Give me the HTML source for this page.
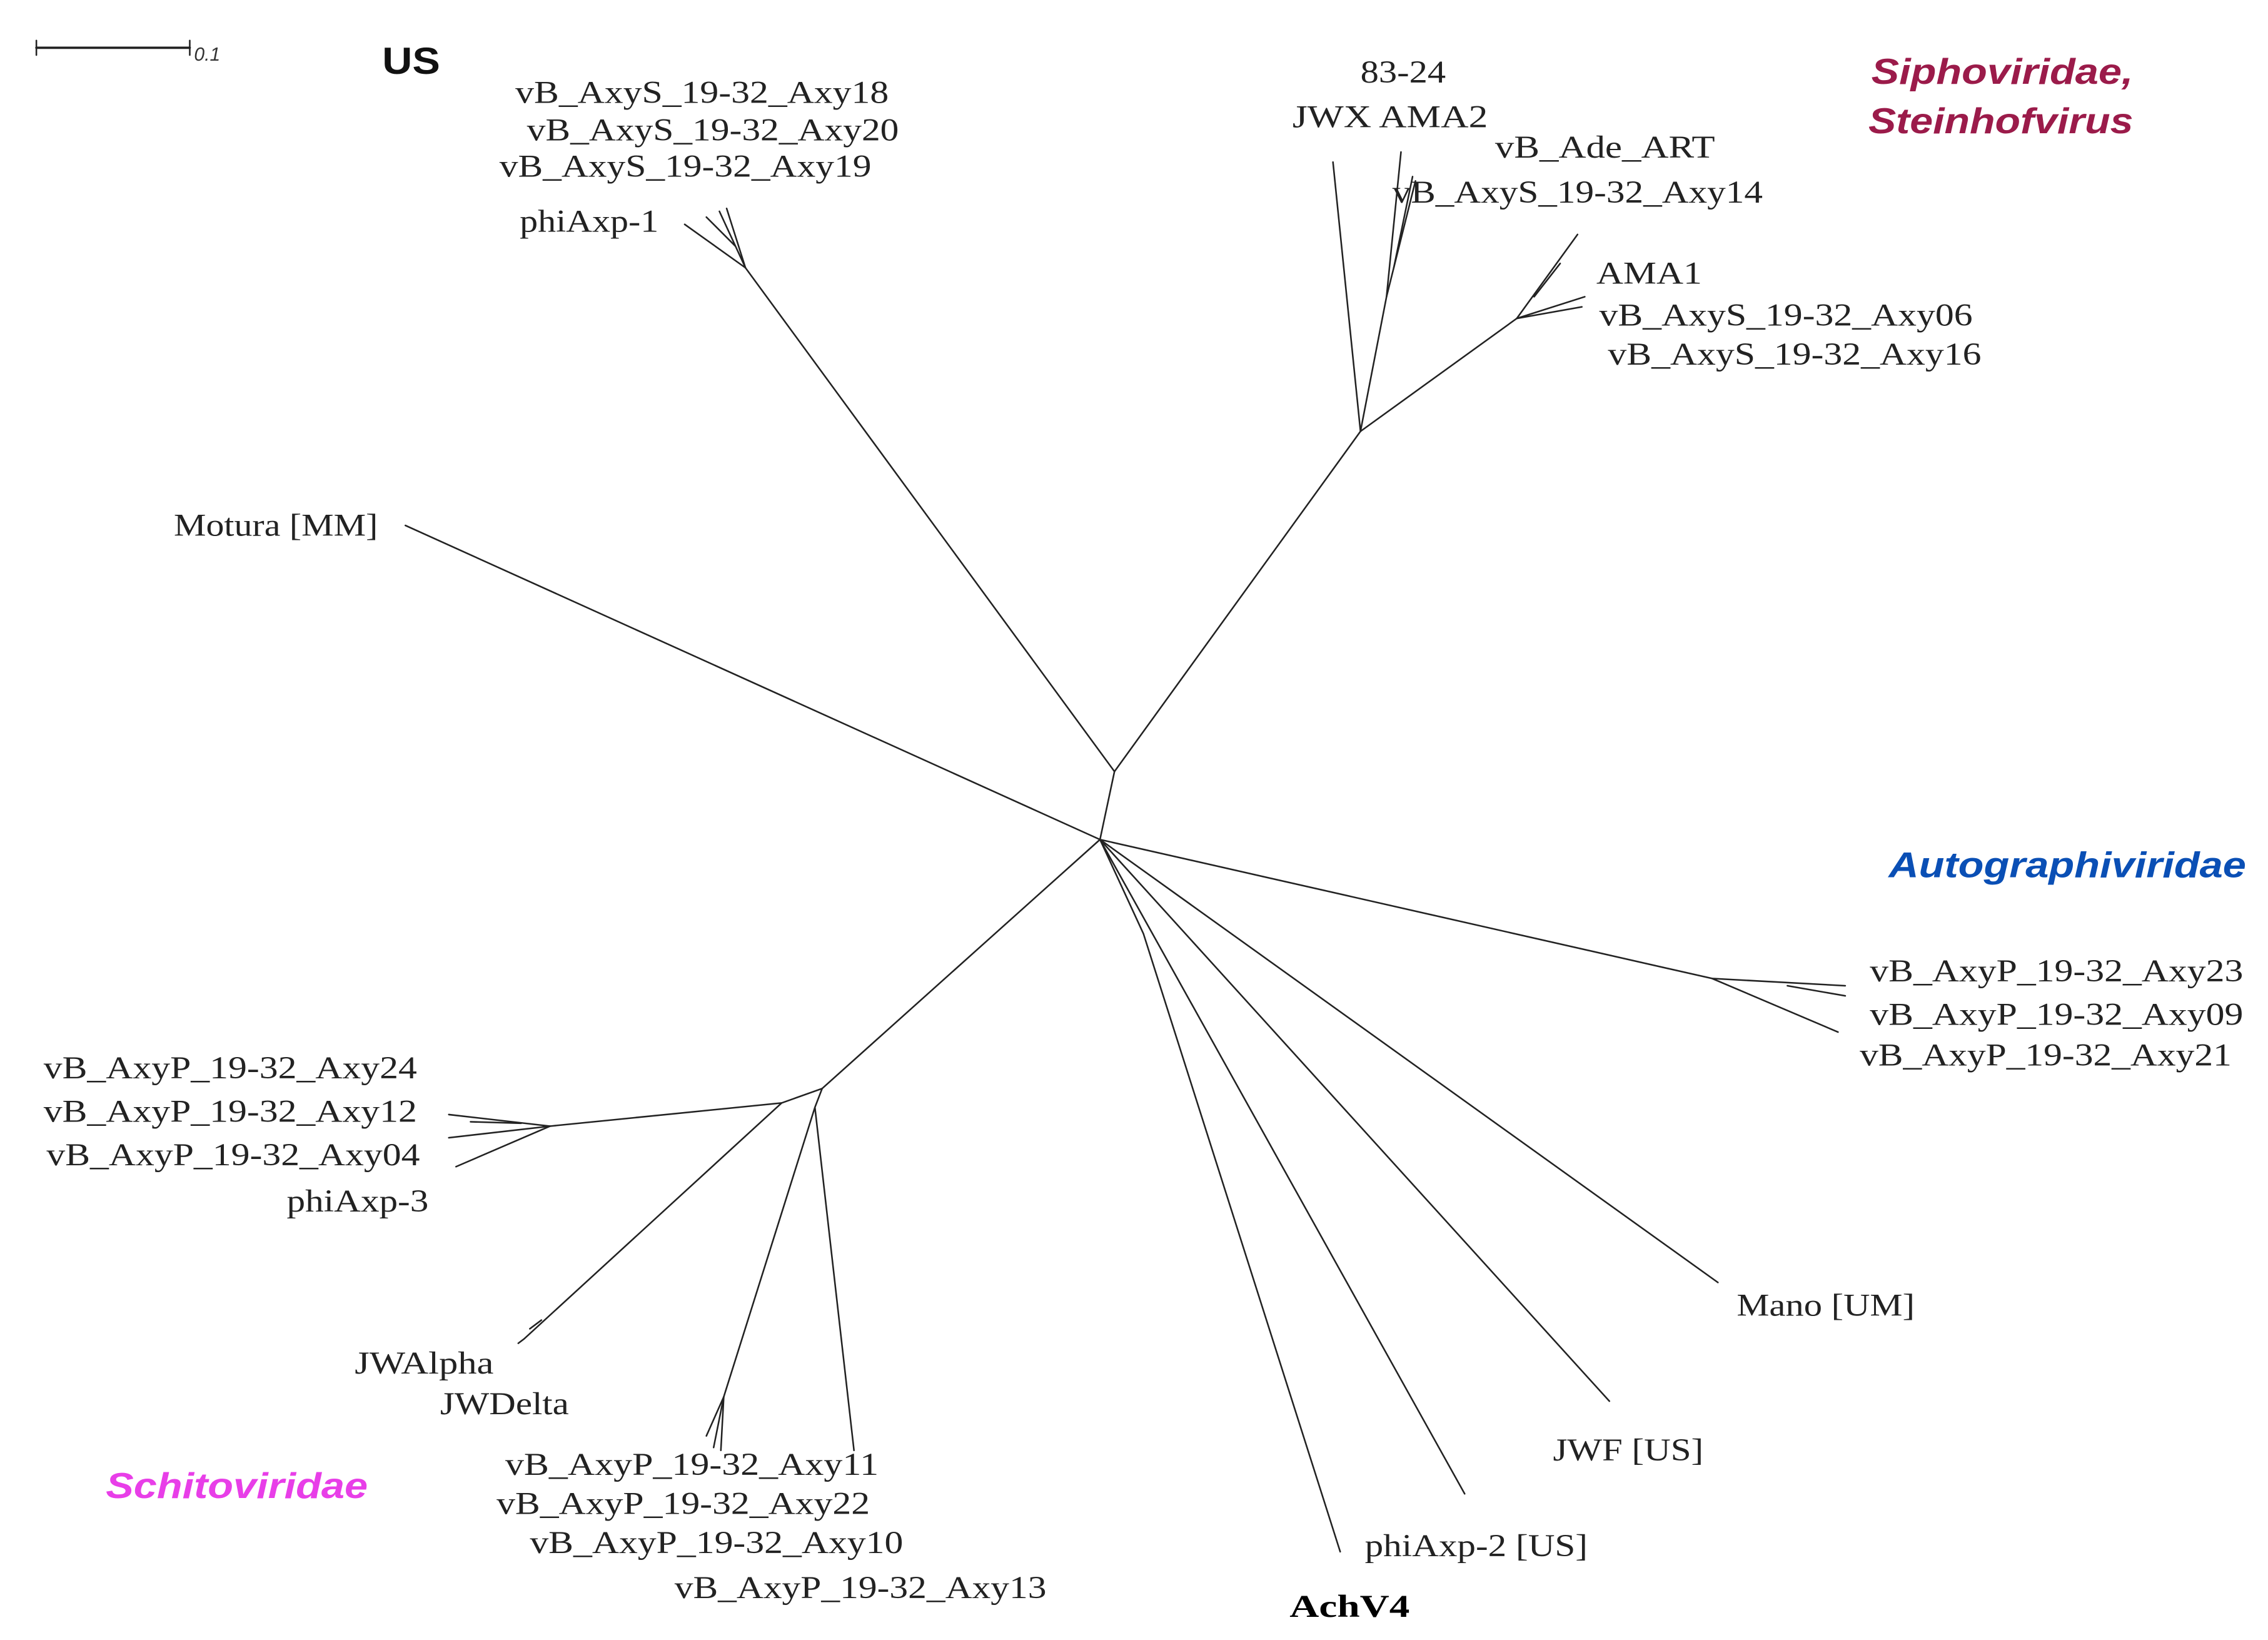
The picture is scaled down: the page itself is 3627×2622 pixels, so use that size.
<!DOCTYPE html>
<html><head><meta charset="utf-8"><style>html,body{margin:0;padding:0;background:#fff}svg{display:block}</style></head>
<body>
<svg width="3627" height="2622" viewBox="0 0 1567 1133" xmlns="http://www.w3.org/2000/svg">
<g stroke="#222" stroke-width="1.1" fill="none" stroke-linecap="round">
<line x1="25" y1="33" x2="131" y2="33" stroke-width="1.6"/>
<line x1="25" y1="28" x2="25" y2="38"/><line x1="131" y1="28" x2="131" y2="38"/>
<polyline points="760,580 770,533 940,298"/>
<line x1="940" y1="298" x2="921" y2="112"/>
<polyline points="940,298 958,205 968,105"/>
<line x1="958" y1="205" x2="978" y2="125"/>
<line x1="963" y1="185" x2="976" y2="122"/>
<polyline points="940,298 1048,220 1090,162"/>
<line x1="1048" y1="220" x2="1095" y2="205"/>
<line x1="1048" y1="220" x2="1093" y2="212"/>
<line x1="1060" y1="205" x2="1078" y2="182"/>
<polyline points="770,533 515,185 473,155"/>
<line x1="515" y1="185" x2="497" y2="146"/>
<line x1="515" y1="185" x2="502" y2="144"/>
<line x1="508" y1="170" x2="488" y2="150"/>
<line x1="760" y1="580" x2="280" y2="363"/>
<line x1="760" y1="580" x2="568" y2="752"/>
<polyline points="568,752 540,762 380,778 310,770"/>
<line x1="380" y1="778" x2="310" y2="786"/>
<line x1="380" y1="778" x2="315" y2="806"/>
<line x1="360" y1="776" x2="325" y2="775"/>
<polyline points="540,762 362,925 358,928"/>
<line x1="366" y1="918" x2="374" y2="912"/>
<polyline points="568,752 563,765 590,1002"/>
<polyline points="563,765 500,965 493,1000"/>
<line x1="500" y1="965" x2="498" y2="1002"/>
<line x1="500" y1="965" x2="488" y2="992"/>
<polyline points="760,580 1183,676 1275,681"/>
<line x1="1235" y1="681" x2="1275" y2="688"/>
<line x1="1183" y1="676" x2="1270" y2="713"/>
<line x1="760" y1="580" x2="1187" y2="886"/>
<line x1="760" y1="580" x2="1112" y2="968"/>
<line x1="760" y1="580" x2="1012" y2="1032"/>
<polyline points="760,580 790,645 926,1072"/>
</g>
<g font-family="'Liberation Serif', serif" font-size="22" fill="#222">
<text x="940" y="57" textLength="59" lengthAdjust="spacingAndGlyphs">83-24</text>
<text x="893" y="88" textLength="135" lengthAdjust="spacingAndGlyphs">JWX AMA2</text>
<text x="1033" y="109" textLength="152" lengthAdjust="spacingAndGlyphs">vB_Ade_ART</text>
<text x="962" y="140" textLength="256" lengthAdjust="spacingAndGlyphs">vB_AxyS_19-32_Axy14</text>
<text x="1103" y="196" textLength="73" lengthAdjust="spacingAndGlyphs">AMA1</text>
<text x="1105" y="225" textLength="258" lengthAdjust="spacingAndGlyphs">vB_AxyS_19-32_Axy06</text>
<text x="1111" y="252" textLength="258" lengthAdjust="spacingAndGlyphs">vB_AxyS_19-32_Axy16</text>
<text x="356" y="71" textLength="258" lengthAdjust="spacingAndGlyphs">vB_AxyS_19-32_Axy18</text>
<text x="364" y="97" textLength="257" lengthAdjust="spacingAndGlyphs">vB_AxyS_19-32_Axy20</text>
<text x="345" y="122" textLength="257" lengthAdjust="spacingAndGlyphs">vB_AxyS_19-32_Axy19</text>
<text x="359" y="160" textLength="96" lengthAdjust="spacingAndGlyphs">phiAxp-1</text>
<text x="120" y="370" textLength="141" lengthAdjust="spacingAndGlyphs">Motura [MM]</text>
<text x="30" y="745" textLength="258" lengthAdjust="spacingAndGlyphs">vB_AxyP_19-32_Axy24</text>
<text x="30" y="775" textLength="258" lengthAdjust="spacingAndGlyphs">vB_AxyP_19-32_Axy12</text>
<text x="32" y="805" textLength="258" lengthAdjust="spacingAndGlyphs">vB_AxyP_19-32_Axy04</text>
<text x="198" y="837" textLength="98" lengthAdjust="spacingAndGlyphs">phiAxp-3</text>
<text x="245" y="949" textLength="96" lengthAdjust="spacingAndGlyphs">JWAlpha</text>
<text x="304" y="977" textLength="89" lengthAdjust="spacingAndGlyphs">JWDelta</text>
<text x="349" y="1019" textLength="258" lengthAdjust="spacingAndGlyphs">vB_AxyP_19-32_Axy11</text>
<text x="343" y="1046" textLength="258" lengthAdjust="spacingAndGlyphs">vB_AxyP_19-32_Axy22</text>
<text x="366" y="1073" textLength="258" lengthAdjust="spacingAndGlyphs">vB_AxyP_19-32_Axy10</text>
<text x="466" y="1104" textLength="257" lengthAdjust="spacingAndGlyphs">vB_AxyP_19-32_Axy13</text>
<text x="891" y="1117" textLength="83" lengthAdjust="spacingAndGlyphs" font-weight="bold" fill="#000">AchV4</text>
<text x="943" y="1075" textLength="154" lengthAdjust="spacingAndGlyphs">phiAxp-2 [US]</text>
<text x="1073" y="1009" textLength="104" lengthAdjust="spacingAndGlyphs">JWF [US]</text>
<text x="1200" y="909" textLength="123" lengthAdjust="spacingAndGlyphs">Mano [UM]</text>
<text x="1292" y="678" textLength="258" lengthAdjust="spacingAndGlyphs">vB_AxyP_19-32_Axy23</text>
<text x="1292" y="708" textLength="258" lengthAdjust="spacingAndGlyphs">vB_AxyP_19-32_Axy09</text>
<text x="1285" y="736" textLength="257" lengthAdjust="spacingAndGlyphs">vB_AxyP_19-32_Axy21</text>
</g>
<g font-family="'Liberation Sans', sans-serif" font-weight="bold" font-style="italic" font-size="25">
<text x="1293" y="58" textLength="181" lengthAdjust="spacingAndGlyphs" fill="#9b1b4a">Siphoviridae,</text>
<text x="1291" y="92" textLength="183" lengthAdjust="spacingAndGlyphs" fill="#9b1b4a">Steinhofvirus</text>
<text x="1305" y="606" textLength="247" lengthAdjust="spacingAndGlyphs" fill="#0a4fb5">Autographiviridae</text>
<text x="73" y="1035" textLength="181" lengthAdjust="spacingAndGlyphs" fill="#e83ee8">Schitoviridae</text>
</g>
<text x="264" y="51" font-family="'Liberation Sans', sans-serif" font-weight="bold" font-size="26" textLength="40" lengthAdjust="spacingAndGlyphs" fill="#111">US</text>
<text x="134" y="42" font-family="'Liberation Sans', sans-serif" font-style="italic" font-size="13" fill="#333">0.1</text>
</svg>
</body></html>
